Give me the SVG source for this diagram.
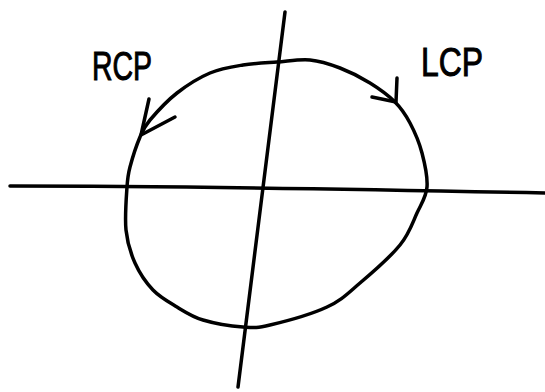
<svg xmlns="http://www.w3.org/2000/svg" width="545" height="392" viewBox="0 0 545 392">
<style>
.s{fill:none;stroke:#000;stroke-width:3.5;stroke-linecap:round;stroke-linejoin:round}
.t{font-family:"Liberation Sans",Arial,sans-serif;font-size:40px;fill:#000;stroke:#000;stroke-width:1}
</style>
<rect width="545" height="392" fill="#fff"/>
<g id="connectors">
<path id="h-axis" class="s" d="M10,186 Q200,186 545,193"/>
<path id="v-axis" class="s" d="M285,12 L238,387"/>
<path id="circle" class="s" d="M277,62 C288.2,61.2 299.5,59 310,60 C320.5,61 330,64.2 340,68 C350,71.8 360.8,77.3 370,83 C379.2,88.7 388.3,95.3 395,102 C401.7,108.7 405.5,114.5 410,123 C414.5,131.5 419.2,142.3 422,153 C424.8,163.7 427.8,177 427,187 C426.2,197 421.5,203.3 417,213 C412.5,222.7 409.5,233.3 400,245 C390.5,256.7 372.2,272.7 360,283 C347.8,293.3 342,300 327,307 C312,314 284,321.7 270,325 C256,328.3 254.2,327.8 243,327 C231.8,326.2 214,323.3 203,320 C192,316.7 185.3,312 177,307 C168.7,302 160,297.3 153,290 C146,282.7 139.5,273 135,263 C130.5,253 127.3,242.7 126,230 C124.7,217.3 126.3,197.5 127,187 C127.7,176.5 127.8,175.3 130,167 C132.2,158.7 136.7,144.8 140,137 C143.3,129.2 143.8,127.3 150,120 C156.2,112.7 167,100.8 177,93 C187,85.2 199,77.7 210,73 C221,68.3 231.8,66.8 243,65 C254.2,63.2 265.8,62.8 277,62 Z"/>
<path id="rcp-arrow" class="s" d="M149,99 L141,135 L175,117"/>
<path id="lcp-arrow" class="s" d="M397,78 L396,102 L372,97"/>
</g>
<g id="rcp"><text class="t" x="92" y="80" textLength="60" lengthAdjust="spacingAndGlyphs">RCP</text></g>
<g id="lcp"><text class="t" x="421" y="76" textLength="62" lengthAdjust="spacingAndGlyphs">LCP</text></g>
</svg>
